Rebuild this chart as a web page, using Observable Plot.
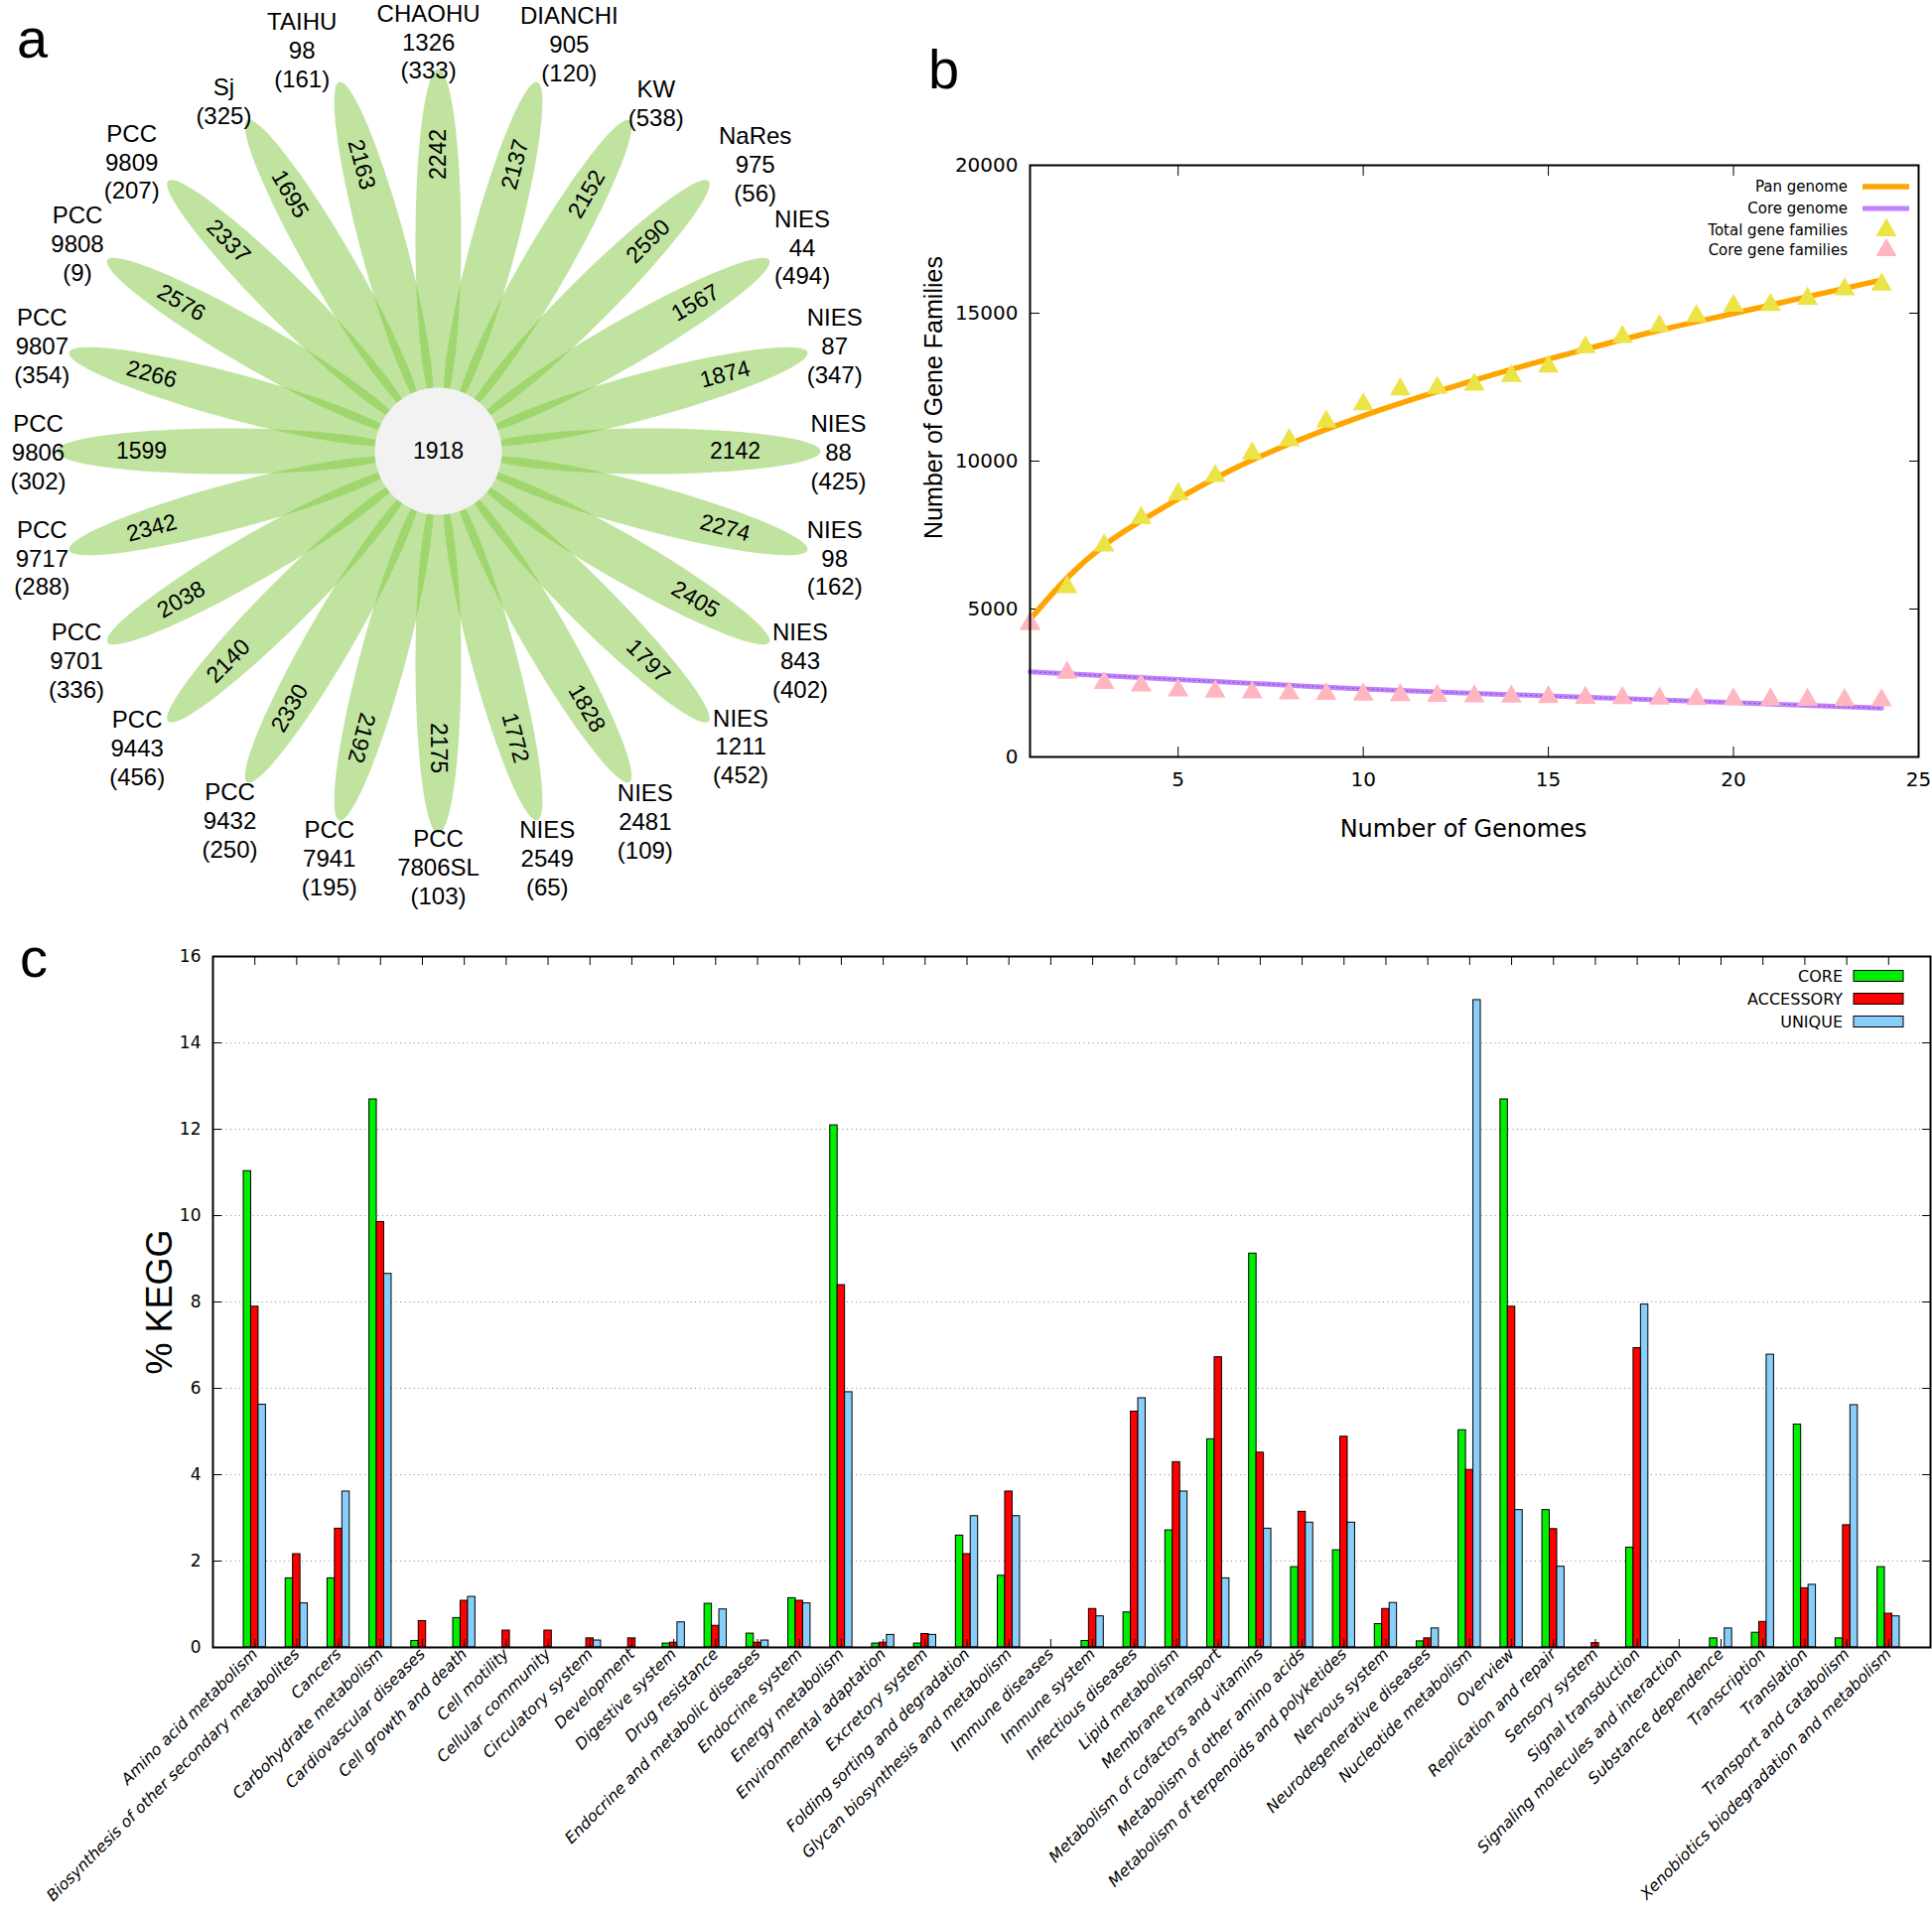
<!DOCTYPE html>
<html>
<head>
<meta charset="utf-8">
<script src="https://cdn.jsdelivr.net/npm/d3@7"></script>
<script src="https://cdn.jsdelivr.net/npm/@observablehq/plot@0.6"></script>
<style>
  html, body { margin: 0; padding: 0; background: #ffffff; }
  #root { position: relative; width: 1946px; height: 1927px; overflow: hidden; background: #ffffff; }
  #root > svg { position: absolute; max-width: none !important; }
</style>
</head>
<body>
<div id="root"></div>
<script>
// ================= DATA =================
// Panel a: flower plot (petals clockwise from the top)
const strainNames = ["CHAOHU\n1326", "DIANCHI\n905", "KW", "NaRes\n975", "NIES\n44", "NIES\n87", "NIES\n88", "NIES\n98", "NIES\n843", "NIES\n1211", "NIES\n2481", "NIES\n2549", "PCC\n7806SL", "PCC\n7941", "PCC\n9432", "PCC\n9443", "PCC\n9701", "PCC\n9717", "PCC\n9806", "PCC\n9807", "PCC\n9808", "PCC\n9809", "Sj", "TAIHU\n98"];
const strainUnique = [333, 120, 538, 56, 494, 347, 425, 162, 402, 452, 109, 65, 103, 195, 250, 456, 336, 288, 302, 354, 9, 207, 325, 161];
const petalValues = [2242, 2137, 2152, 2590, 1567, 1874, 2142, 2274, 2405, 1797, 1828, 1772, 2175, 2192, 2330, 2140, 2038, 2342, 1599, 2266, 2576, 2337, 1695, 2163];
const coreValue = 1918;

// Panel b: pan / core genome
const genomes = [1, 2, 3, 4, 5, 6, 7, 8, 9, 10, 11, 12, 13, 14, 15, 16, 17, 18, 19, 20, 21, 22, 23, 24];
const totalFamilies = [4500, 5740, 7150, 8080, 8890, 9500, 10260, 10710, 11340, 11920, 12430, 12480, 12590, 12880, 13200, 13850, 14200, 14570, 14900, 15250, 15280, 15490, 15810, 15970];
const coreFamilies = [4500, 2850, 2500, 2420, 2250, 2210, 2180, 2150, 2130, 2110, 2090, 2070, 2050, 2040, 2020, 2000, 1990, 1970, 1960, 1950, 1940, 1930, 1925, 1918];
const panCurveX = [1, 2, 3, 4, 6, 8, 10, 12, 14, 16, 18, 20, 22, 24];
const panCurveY = [4650, 6050, 7150, 7980, 9420, 10580, 11530, 12350, 13100, 13780, 14420, 14990, 15560, 16120];
const coreCurveX = [1, 5, 10, 15, 20, 24];
const coreCurveY = [2880, 2620, 2300, 2060, 1840, 1650];
const bXTicks = [5, 10, 15, 20, 25];
const bYTicks = [0, 5000, 10000, 15000, 20000];
const bLegend = ["Pan genome", "Core genome", "Total gene families", "Core gene families"];

// Panel c: KEGG categories
const keggCategories = ["Amino acid metabolism", "Biosynthesis of other secondary metabolites", "Cancers", "Carbohydrate metabolism", "Cardiovascular diseases", "Cell growth and death", "Cell motility", "Cellular community", "Circulatory system", "Development", "Digestive system", "Drug resistance", "Endocrine and metabolic diseases", "Endocrine system", "Energy metabolism", "Environmental adaptation", "Excretory system", "Folding sorting and degradation", "Glycan biosynthesis and metabolism", "Immune diseases", "Immune system", "Infectious diseases", "Lipid metabolism", "Membrane transport", "Metabolism of cofactors and vitamins", "Metabolism of other amino acids", "Metabolism of terpenoids and polyketides", "Nervous system", "Neurodegenerative diseases", "Nucleotide metabolism", "Overview", "Replication and repair", "Sensory system", "Signal transduction", "Signaling molecules and interaction", "Substance dependence", "Transcription", "Translation", "Transport and catabolism", "Xenobiotics biodegradation and metabolism"];
const coreKegg = [11.03, 1.60, 1.60, 12.69, 0.15, 0.68, 0, 0, 0, 0, 0.09, 1.01, 0.32, 1.14, 12.09, 0.09, 0.09, 2.59, 1.66, 0, 0.15, 0.81, 2.71, 4.82, 9.12, 1.86, 2.25, 0.54, 0.14, 5.03, 12.69, 3.18, 0, 2.31, 0, 0.21, 0.34, 5.16, 0.21, 1.86];
const accessoryKegg = [7.89, 2.16, 2.75, 9.85, 0.61, 1.08, 0.39, 0.39, 0.21, 0.21, 0.11, 0.50, 0.11, 1.08, 8.39, 0.11, 0.31, 2.16, 3.61, 0, 0.89, 5.46, 4.29, 6.72, 4.51, 3.14, 4.88, 0.89, 0.21, 4.11, 7.89, 2.74, 0.10, 6.93, 0, 0, 0.59, 1.37, 2.83, 0.78];
const uniqueKegg = [5.62, 1.02, 3.61, 8.65, 0, 1.17, 0, 0, 0.16, 0, 0.58, 0.88, 0.16, 1.02, 5.91, 0.29, 0.29, 3.04, 3.04, 0, 0.72, 5.77, 3.61, 1.60, 2.75, 2.89, 2.89, 1.03, 0.44, 14.99, 3.18, 1.87, 0, 7.94, 0, 0.44, 6.78, 1.45, 5.61, 0.72];
const keggYTicks = [0, 2, 4, 6, 8, 10, 12, 14, 16];
const keggGrid = [2, 4, 6, 8, 10, 12, 14];
const cSeries = ["CORE", "ACCESSORY", "UNIQUE"];

// ================= STYLE =================
const C_GREEN = "#00ee00", C_RED = "#ff0000", C_BLUE = "#87cefa";
const C_PAN = "#ffa500", C_CORE = "#c080ff", C_TOTALPT = "#ece447", C_COREPT = "#ffb6c1";
const root = document.getElementById("root");
const deg = Math.PI / 180;

// ================= PANEL A =================
const A_TOP = 454; // data y at the top edge of panel a
const angStep = 360 / petalValues.length;
const petals = petalValues.map((v, i) => ({i, v, ang: i * angStep}));
const TIP = 385, INNER = 40, HALF = 23;
const ec = (TIP + INNER) / 2, ea = (TIP - INNER) / 2;
const outline = petals.flatMap(p => {
  const th = p.ang * deg;
  const ux = Math.sin(th), uy = Math.cos(th), vx = Math.cos(th), vy = -Math.sin(th);
  return d3.range(72).map(k => {
    const t = 2 * Math.PI * k / 72;
    const al = ec + ea * Math.cos(t), ac = HALF * Math.sin(t);
    return {i: p.i, x: al * ux + ac * vx, y: al * uy + ac * vy};
  });
});

// label layout: just outside the petal tips, then nudged apart along the ring
const LFS = 24, LLH = 28.8, GLYPH_H = 18, R0 = 375, GAP_H = 40, GAP_V = 8;
const measureCtx = document.createElement("canvas").getContext("2d");
measureCtx.font = `${LFS}px 'Liberation Sans'`;
const labelBoxes = petals.map(p => {
  const lines = (strainNames[p.i] + "\n(" + strainUnique[p.i] + ")").split("\n");
  const widths = lines.map(l => measureCtx.measureText(l).width);
  return {lines, widths, w: d3.max(widths), h: lines.length * LLH, ang: p.ang};
});
function placeLabel(L) {
  const th = L.ang * deg;
  const r = R0 + Math.abs(Math.sin(th)) * L.w / 2 + Math.abs(Math.cos(th)) * L.h / 2;
  L.x = r * Math.sin(th); L.y = r * Math.cos(th);
  const n = L.lines.length;
  L.boxes = L.lines.map((l, k) => {
    const ly = L.y + ((n - 1) / 2 - k) * LLH;
    return {x0: L.x - L.widths[k] / 2, x1: L.x + L.widths[k] / 2, y0: ly - GLYPH_H / 2, y1: ly + GLYPH_H / 2};
  });
}
function crowded(A, B) {
  for (const a of A.boxes) for (const b of B.boxes) {
    const hg = Math.max(a.x0 - b.x1, b.x0 - a.x1);
    const vg = Math.max(a.y0 - b.y1, b.y0 - a.y1);
    if (vg < 0 && hg < GAP_H) return true;
    if (hg < 0 && vg < GAP_V) return true;
  }
  return false;
}
labelBoxes.forEach(L => placeLabel(L));
for (let it = 0; it < 300; it++) {
  let moved = false;
  for (let i = 0; i < labelBoxes.length; i++) {
    const A = labelBoxes[i], B = labelBoxes[(i + 1) % labelBoxes.length];
    if (crowded(A, B)) { A.ang -= 0.05; B.ang += 0.05; placeLabel(A); placeLabel(B); moved = true; }
  }
  if (!moved) break;
}
// keep every label inside the top edge of the page
labelBoxes.forEach(L => {
  const capTop = L.y + (L.lines.length - 1) / 2 * LLH + GLYPH_H / 2;
  const limit = A_TOP - 3;
  if (capTop > limit) L.y -= capTop - limit;
});
const labelRows = labelBoxes.map(L => ({text: L.lines.join("\n"), x: L.x, y: L.y}));

const plotA = Plot.plot({
  width: 900, height: 920, margin: 0,
  x: {domain: [-441, 459], axis: null},
  y: {domain: [-466, A_TOP], axis: null},
  style: {fontFamily: "'Liberation Sans', Arial, sans-serif", background: "transparent", overflow: "visible", color: "#000"},
  marks: [
    Plot.line(outline, {x: "x", y: "y", z: "i", fill: "#7cc739", fillOpacity: 0.48, stroke: "none", curve: "linear-closed"}),
    Plot.dot([{cx: 0, cy: 0}], {x: "cx", y: "cy", r: 64, fill: "#f2f2f2", stroke: "none"}),
    Plot.text([{cx: 0, cy: 0, v: coreValue}], {x: "cx", y: "cy", text: d => String(d.v), fontSize: 23, fill: "#000"}),
    Plot.text(petals, {
      x: p => 299 * Math.sin(p.ang * deg), y: p => 299 * Math.cos(p.ang * deg),
      text: p => String(p.v), rotate: p => (p.ang <= 195 ? p.ang - 90 : p.ang - 270),
      fontSize: 23, fill: "#000"
    }),
    Plot.text(labelRows, {x: "x", y: "y", text: "text", fontSize: LFS, lineHeight: LLH / LFS, fill: "#000"})
  ]
});
plotA.style.left = "0px"; plotA.style.top = "0px";
root.appendChild(plotA);

// ================= PANEL B =================
const totalPts = genomes.map((g, i) => ({g, v: totalFamilies[i]}));
const corePts = genomes.map((g, i) => ({g, v: coreFamilies[i]}));
const panCurve = panCurveX.map((x, i) => ({x, y: panCurveY[i]}));
const coreCurve = coreCurveX.map((x, i) => ({x, y: coreCurveY[i]}));

const plotB = Plot.plot({
  width: 1046, height: 900, marginLeft: 137, marginRight: 14, marginTop: 166, marginBottom: 138,
  x: {domain: [1, 25]},
  y: {domain: [0, 20000]},
  style: {fontFamily: "'DejaVu Sans', sans-serif", background: "transparent", overflow: "visible", color: "#000"},
  marks: [
    Plot.axisX({ticks: bXTicks, anchor: "bottom", tickSize: 0, tickPadding: 15, fontSize: 20, label: null}),
    Plot.axisX({ticks: bXTicks, anchor: "bottom", tickSize: -10, tickFormat: () => "", label: null}),
    Plot.axisX({ticks: bXTicks, anchor: "top", tickSize: -10, tickFormat: () => "", label: null}),
    Plot.axisY({ticks: bYTicks, anchor: "left", tickSize: 0, tickPadding: 12, fontSize: 20, tickFormat: "d", label: null}),
    Plot.axisY({ticks: bYTicks, anchor: "left", tickSize: -10, tickFormat: () => "", label: null}),
    Plot.axisY({ticks: bYTicks, anchor: "right", tickSize: -10, tickFormat: () => "", label: null}),
    Plot.line(panCurve, {x: "x", y: "y", stroke: C_PAN, strokeWidth: 5.5, curve: "natural"}),
    Plot.line(coreCurve, {x: "x", y: "y", stroke: C_CORE, strokeWidth: 5, curve: "natural"}),
    Plot.line(coreCurve, {x: "x", y: "y", stroke: "#6b4a8a", strokeWidth: 1, strokeDasharray: "1,4", curve: "natural"}),
    Plot.dot(totalPts, {x: "g", y: "v", symbol: "triangle", r: 7.8, fill: C_TOTALPT, stroke: "none"}),
    Plot.dot(corePts, {x: "g", y: "v", symbol: "triangle", r: 7.8, fill: C_COREPT, stroke: "none"}),
    Plot.text(["Number of Genomes"], {frameAnchor: "bottom", textAnchor: "middle", lineAnchor: "middle", dx: -11, dy: 73, fontSize: 24, fill: "#000"}),
    Plot.text(["Number of Gene Families"], {frameAnchor: "left", textAnchor: "middle", lineAnchor: "middle", dx: -97, dy: -64, rotate: -90, fontSize: 25, fontFamily: "'Liberation Sans', Arial, sans-serif", fill: "#000"}),
    Plot.frame({stroke: "#000", strokeWidth: 2})
  ]
});
plotB.style.left = "900px"; plotB.style.top = "0px";
root.appendChild(plotB);

// ================= PANEL C =================
const nCat = keggCategories.length;
const P_IN = 0.47, P_OUT = 0.735;
const cWidth = 1946, cML = 214, cMR = 2;
const stepC = (cWidth - cML - cMR) / (nCat - P_IN + 2 * P_OUT);
const barW = stepC * (1 - P_IN) / 3;
const keggRows = keggCategories.map((c, i) => ({c, core: coreKegg[i], acc: accessoryKegg[i], uni: uniqueKegg[i]}));

const plotC = Plot.plot({
  width: cWidth, height: 997, marginLeft: cML, marginRight: cMR, marginTop: 33, marginBottom: 268,
  x: {type: "band", domain: keggCategories, paddingInner: P_IN, paddingOuter: P_OUT, align: 0.5, round: false},
  y: {domain: [0, 16]},
  style: {fontFamily: "'DejaVu Sans', sans-serif", background: "transparent", overflow: "visible", color: "#000"},
  marks: [
    Plot.ruleY(keggGrid, {stroke: "#8a8a8a", strokeWidth: 1, strokeDasharray: "1,3.5"}),
    Plot.barY(keggRows, {filter: d => d.core > 0, x: "c", y: "core", fill: C_GREEN, stroke: "#000", strokeWidth: 1, insetRight: 2 * barW}),
    Plot.barY(keggRows, {filter: d => d.acc > 0, x: "c", y: "acc", fill: C_RED, stroke: "#000", strokeWidth: 1, insetLeft: barW, insetRight: barW}),
    Plot.barY(keggRows, {filter: d => d.uni > 0, x: "c", y: "uni", fill: C_BLUE, stroke: "#000", strokeWidth: 1, insetLeft: 2 * barW}),
    Plot.axisX({anchor: "bottom", tickSize: 0, tickPadding: 4, tickRotate: -45, fontSize: 15.8, fontStyle: "italic", label: null}),
    Plot.axisX({anchor: "bottom", tickSize: -8, tickFormat: () => "", label: null}),
    Plot.axisX({anchor: "top", tickSize: -8, tickFormat: () => "", label: null}),
    Plot.axisY({ticks: keggYTicks, anchor: "left", tickSize: 0, tickPadding: 12, fontSize: 17, tickFormat: "d", label: null}),
    Plot.axisY({ticks: keggYTicks, anchor: "left", tickSize: -9, tickFormat: () => "", label: null}),
    Plot.axisY({ticks: keggYTicks, anchor: "right", tickSize: -9, tickFormat: () => "", label: null}),
    Plot.text(["% KEGG"], {frameAnchor: "left", textAnchor: "middle", lineAnchor: "middle", dx: -53, rotate: -90, fontSize: 36, fontFamily: "'Liberation Sans', Arial, sans-serif", fill: "#000"}),
    Plot.frame({stroke: "#000", strokeWidth: 2})
  ]
});
plotC.style.left = "0px"; plotC.style.top = "930px";
root.appendChild(plotC);

// ================= OVERLAY: panel letters and legends =================
const ov = d3.create("svg").attr("width", 1946).attr("height", 1927)
  .style("left", "0px").style("top", "0px").style("pointer-events", "none");
const letters = [{t: "a", x: 17, y: 58}, {t: "b", x: 935, y: 89}, {t: "c", x: 20, y: 984}];
ov.selectAll("text.letter").data(letters).join("text").attr("class", "letter")
  .attr("x", d => d.x).attr("y", d => d.y).attr("font-family", "'Liberation Sans', Arial, sans-serif")
  .attr("font-size", 56).attr("fill", "#000").text(d => d.t);

// legend b
const bRows = [188, 210, 232, 252];
bLegend.forEach((lab, i) => {
  ov.append("text").attr("x", 1861).attr("y", bRows[i]).attr("text-anchor", "end").attr("dominant-baseline", "central")
    .attr("font-family", "'DejaVu Sans', sans-serif").attr("font-size", 15).attr("fill", "#000").text(lab);
});
ov.append("line").attr("x1", 1876).attr("x2", 1923).attr("y1", bRows[0]).attr("y2", bRows[0]).attr("stroke", C_PAN).attr("stroke-width", 5.5);
ov.append("line").attr("x1", 1876).attr("x2", 1923).attr("y1", bRows[1]).attr("y2", bRows[1]).attr("stroke", C_CORE).attr("stroke-width", 5);
const tri = d3.symbol(d3.symbolTriangle, Math.PI * 7.8 * 7.8)();
ov.append("path").attr("d", tri).attr("transform", `translate(1900,${bRows[2]})`).attr("fill", C_TOTALPT);
ov.append("path").attr("d", tri).attr("transform", `translate(1900,${bRows[3]})`).attr("fill", C_COREPT);

// legend c
const cRows = [983, 1006, 1029];
const cCols = [C_GREEN, C_RED, C_BLUE];
cSeries.forEach((lab, i) => {
  ov.append("text").attr("x", 1856).attr("y", cRows[i]).attr("text-anchor", "end").attr("dominant-baseline", "central")
    .attr("font-family", "'DejaVu Sans', sans-serif").attr("font-size", 16).attr("fill", "#000").text(lab);
  ov.append("rect").attr("x", 1867).attr("y", cRows[i] - 5.5).attr("width", 50).attr("height", 11)
    .attr("fill", cCols[i]).attr("stroke", "#000").attr("stroke-width", 1);
});
root.appendChild(ov.node());
</script>
</body>
</html>
